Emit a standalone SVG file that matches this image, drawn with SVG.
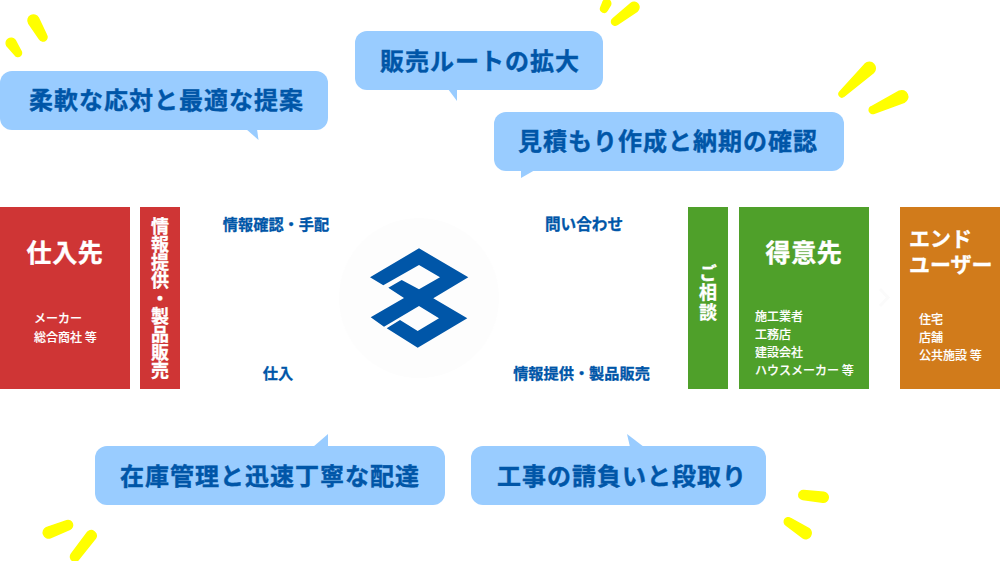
<svg xmlns="http://www.w3.org/2000/svg" width="1000" height="561" viewBox="0 0 1000 561">
<style>
text{font-family:"Noto Sans CJK JP","Noto Sans CJK SC",sans-serif}
.b{fill:#99ccff}
.bt{font-size:24px;font-weight:700;fill:#0056a8;stroke:#0056a8;stroke-width:.4px;letter-spacing:1px}
.l{font-size:15.2px;font-weight:700;fill:#0056a8;stroke:#0056a8;stroke-width:.3px}
.h{font-size:25px;font-weight:700;fill:#fff;stroke:#fff;stroke-width:.4px;letter-spacing:.7px}
.e{font-size:21px;font-weight:700;fill:#fff;stroke:#fff;stroke-width:.3px}
.s{font-size:12px;font-weight:500;fill:#fff;stroke:#fff;stroke-width:.15px}
.v{font-size:18px;font-weight:700;fill:#fff;stroke:#fff;stroke-width:.3px;writing-mode:vertical-rl}
.y{fill:#ffff00;stroke:#ffff00;stroke-width:1.5px;stroke-linejoin:round}
</style>
<rect width="1000" height="561" fill="#fff"/>
<g id="sparks">
<path class="y" d="M38.3 17.75L46.5 35A4 4 0 0 1 39.5 39L28.7 23.25A5.5 5.5 0 0 1 38.3 17.75Z"/>
<path class="y" d="M15.1 40.15L20.9 51A3.5 3.5 0 0 1 15.1 55L6.9 45.85A5 5 0 0 1 15.1 40.15Z"/>
<path class="y" d="M610.4 5.1L607.2 10.4A3.5 3.5 0 0 1 600.8 7.6L603 1.9A4 4 0 0 1 610.4 5.1Z"/>
<path class="y" d="M637 11.3L617.1 24.5A3.5 3.5 0 0 1 612.9 18.9L631 3.3A5 5 0 0 1 637 11.3Z"/>
<path class="y" d="M873.4 72.7L843.7 96.5A3 3 0 0 1 839.7 92.1L865.2 63.9A6 6 0 0 1 873.4 72.7Z"/>
<path class="y" d="M904.2 102.2L874.2 113.2A3.5 3.5 0 0 1 871.2 106.8L899.2 91.2A6 6 0 0 1 904.2 102.2Z"/>
<path class="y" d="M803.8 490.5L823.8 492.3A5 5 0 0 1 822.8 502.3L802.8 499.5A4.5 4.5 0 0 1 803.8 490.5Z"/>
<path class="y" d="M790.5 518.3L809 528.7A5.5 5.5 0 0 1 803 537.9L786.1 525.1A4 4 0 0 1 790.5 518.3Z"/>
<path class="y" d="M46.3 527.6L66.7 520.8A4.5 4.5 0 0 1 69.9 529.2L50.3 537.8A5.5 5.5 0 0 1 46.3 527.6Z"/>
<path class="y" d="M95.6 538L78.6 559.4A4.5 4.5 0 0 1 71.4 554L87.8 532A5 5 0 0 1 95.6 538Z"/>
</g>
<g id="bubble-1"><rect class="b" x="0" y="71" width="328" height="59" rx="12"/><path class="b" d="M246 129L257 129L258.5 140Z"/><text class="bt" x="29" y="109">柔軟な応対と最適な提案</text></g>
<g id="bubble-2"><rect class="b" x="355" y="31" width="248" height="59" rx="12"/><path class="b" d="M448 89L457 89L457 101Z"/><text class="bt" x="380" y="69.5">販売ルートの拡大</text></g>
<g id="bubble-3"><rect class="b" x="494" y="112" width="350" height="59" rx="12"/><path class="b" d="M521 178L521 170L535 170Z"/><text class="bt" x="518" y="150">見積もり作成と納期の確認</text></g>
<g id="bubble-4"><rect class="b" x="95" y="446" width="350" height="59" rx="12"/><path class="b" d="M328 434L328 447L313 447Z"/><text class="bt" x="120" y="485">在庫管理と迅速丁寧な配達</text></g>
<g id="bubble-5"><rect class="b" x="471" y="446" width="295" height="59" rx="12"/><path class="b" d="M627 434L630 447L644 447Z"/><text class="bt" x="497" y="485">工事の請負いと段取り</text></g>
<g id="supplier"><rect x="0" y="207" width="130" height="182" fill="#cf3535"/><text class="h" x="65" y="262" text-anchor="middle">仕入先</text><text class="s" x="34" y="323">メーカー</text><text class="s" x="34" y="342">総合商社 等</text></g>
<g id="info-box"><rect x="140" y="207" width="40" height="182" fill="#cf3535"/><text class="v" x="160" y="217">情報提供・製品販売</text></g>
<g id="consult"><rect x="688" y="207" width="40" height="182" fill="#4fa02a"/><text class="v" style="letter-spacing:1.5px" x="708" y="264">ご相談</text></g>
<g id="customer"><rect x="739" y="207" width="130" height="182" fill="#4fa02a"/><text class="h" x="804" y="262" text-anchor="middle">得意先</text><text class="s" x="755" y="321">施工業者</text><text class="s" x="755" y="339">工務店</text><text class="s" x="755" y="357">建設会社</text><text class="s" x="755" y="375">ハウスメーカー 等</text></g>
<g id="end-user"><rect x="900" y="207" width="100" height="182" fill="#d17b1b"/><text class="e" x="909" y="246">エンド</text><text class="e" x="909" y="272">ユーザー</text><text class="s" x="919" y="324">住宅</text><text class="s" x="919" y="342">店舗</text><text class="s" x="919" y="360">公共施設 等</text></g>
<g id="logo"><circle cx="419" cy="298" r="80" fill="#fdfdfd"/><polygon fill="#0056a8" points="404,298 370.7,317.3 384,326.7 419,306 439,318.3 417.7,331 400,320 386.7,328.3 417.7,347.7 467.3,318.3 433.3,298.3 468.3,277.3 419,248.3 370,277.3 383.3,285.3 419,265 440,277.3 419,289.3 401.7,280 388.3,287.7"/></g>
<g id="connectors"><path d="M880 289L888 297.5L880 306" fill="none" stroke="#fbfbfb" stroke-width="3"/></g>
<g id="labels"><text class="l" x="276" y="230" text-anchor="middle">情報確認・手配</text><text class="l" x="278" y="379" text-anchor="middle">仕入</text><text class="l" style="font-size:15.6px" x="584" y="230" text-anchor="middle">問い合わせ</text><text class="l" x="581.5" y="379" text-anchor="middle">情報提供・製品販売</text></g>
</svg>
